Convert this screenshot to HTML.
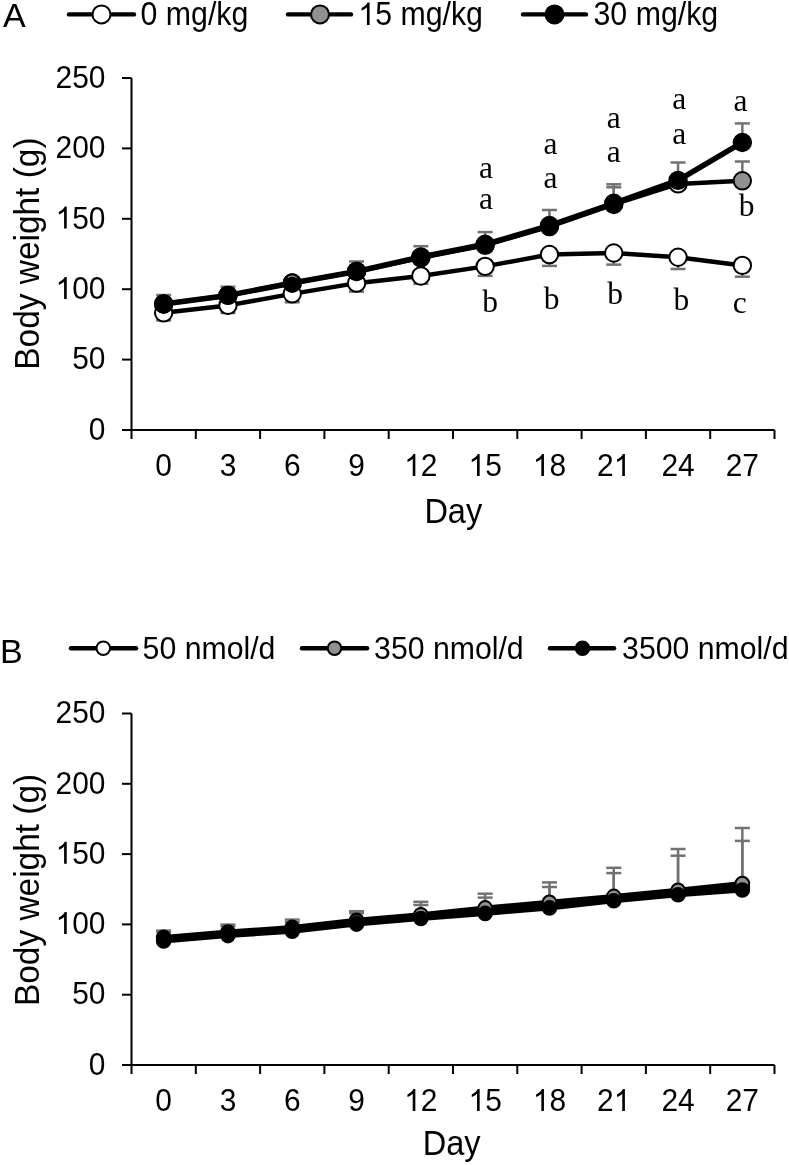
<!DOCTYPE html>
<html><head><meta charset="utf-8"><style>
html,body{margin:0;padding:0;background:#fff;}
svg{display:block;}
</style></head><body>
<svg width="789" height="1165" viewBox="0 0 789 1165" style="will-change:transform">
<rect width="789" height="1165" fill="#fff"/>
<text x="3.00" y="27.00" font-family="Liberation Sans" font-size="34" text-anchor="start" >A</text>
<line x1="69.00" y1="14.40" x2="134.00" y2="14.40" stroke="#000" stroke-width="4.4" stroke-linecap="round"/>
<circle cx="101.50" cy="14.40" r="9" fill="#fff" stroke="#000" stroke-width="2"/>
<text transform="translate(140.50,24.90) scale(0.93,1)" font-family="Liberation Sans" font-size="32.6" text-anchor="start" >0 mg/kg</text>
<line x1="288.00" y1="14.40" x2="351.00" y2="14.40" stroke="#000" stroke-width="4.4" stroke-linecap="round"/>
<circle cx="320.00" cy="14.40" r="9" fill="#909090" stroke="#000" stroke-width="2"/>
<path transform="translate(358.30,24.90) scale(0.01480,-0.01592)" d="M763 0L583 0L583 1102Q518 1043 412 983Q306 924 223 894L223 1061Q368 1127 477 1220Q586 1313 631 1409L763 1409Z"/>
<text transform="translate(375.16,24.90) scale(0.93,1)" font-family="Liberation Sans" font-size="32.6" xml:space="preserve">5 mg/kg</text>
<line x1="523.00" y1="14.40" x2="586.00" y2="14.40" stroke="#000" stroke-width="4.4" stroke-linecap="round"/>
<circle cx="554.50" cy="14.40" r="9" fill="#000" stroke="#000" stroke-width="2"/>
<text transform="translate(593.50,24.90) scale(0.93,1)" font-family="Liberation Sans" font-size="32.6" text-anchor="start" >30 mg/kg</text>
<line x1="131.50" y1="78.00" x2="131.50" y2="430.00" stroke="#000" stroke-width="2" stroke-linecap="butt"/>
<line x1="122.00" y1="430.00" x2="131.50" y2="430.00" stroke="#000" stroke-width="2" stroke-linecap="butt"/>
<text transform="translate(105.50,439.70) scale(0.935,1)" font-family="Liberation Sans" font-size="32" text-anchor="end" >0</text>
<line x1="122.00" y1="359.60" x2="131.50" y2="359.60" stroke="#000" stroke-width="2" stroke-linecap="butt"/>
<text transform="translate(105.50,369.30) scale(0.935,1)" font-family="Liberation Sans" font-size="32" text-anchor="end" >50</text>
<line x1="122.00" y1="289.20" x2="131.50" y2="289.20" stroke="#000" stroke-width="2" stroke-linecap="butt"/>
<path transform="translate(55.58,298.90) scale(0.01461,-0.01562)" d="M763 0L583 0L583 1102Q518 1043 412 983Q306 924 223 894L223 1061Q368 1127 477 1220Q586 1313 631 1409L763 1409Z"/>
<text transform="translate(72.22,298.90) scale(0.935,1)" font-family="Liberation Sans" font-size="32" xml:space="preserve">00</text>
<line x1="122.00" y1="218.80" x2="131.50" y2="218.80" stroke="#000" stroke-width="2" stroke-linecap="butt"/>
<path transform="translate(55.58,228.50) scale(0.01461,-0.01562)" d="M763 0L583 0L583 1102Q518 1043 412 983Q306 924 223 894L223 1061Q368 1127 477 1220Q586 1313 631 1409L763 1409Z"/>
<text transform="translate(72.22,228.50) scale(0.935,1)" font-family="Liberation Sans" font-size="32" xml:space="preserve">50</text>
<line x1="122.00" y1="148.40" x2="131.50" y2="148.40" stroke="#000" stroke-width="2" stroke-linecap="butt"/>
<text transform="translate(105.50,158.10) scale(0.935,1)" font-family="Liberation Sans" font-size="32" text-anchor="end" >200</text>
<line x1="122.00" y1="78.00" x2="131.50" y2="78.00" stroke="#000" stroke-width="2" stroke-linecap="butt"/>
<text transform="translate(105.50,87.70) scale(0.935,1)" font-family="Liberation Sans" font-size="32" text-anchor="end" >250</text>
<line x1="130.50" y1="430.00" x2="774.50" y2="430.00" stroke="#000" stroke-width="2" stroke-linecap="butt"/>
<line x1="131.50" y1="430.00" x2="131.50" y2="439.00" stroke="#000" stroke-width="2" stroke-linecap="butt"/>
<line x1="195.80" y1="430.00" x2="195.80" y2="439.00" stroke="#000" stroke-width="2" stroke-linecap="butt"/>
<line x1="260.10" y1="430.00" x2="260.10" y2="439.00" stroke="#000" stroke-width="2" stroke-linecap="butt"/>
<line x1="324.40" y1="430.00" x2="324.40" y2="439.00" stroke="#000" stroke-width="2" stroke-linecap="butt"/>
<line x1="388.70" y1="430.00" x2="388.70" y2="439.00" stroke="#000" stroke-width="2" stroke-linecap="butt"/>
<line x1="453.00" y1="430.00" x2="453.00" y2="439.00" stroke="#000" stroke-width="2" stroke-linecap="butt"/>
<line x1="517.30" y1="430.00" x2="517.30" y2="439.00" stroke="#000" stroke-width="2" stroke-linecap="butt"/>
<line x1="581.60" y1="430.00" x2="581.60" y2="439.00" stroke="#000" stroke-width="2" stroke-linecap="butt"/>
<line x1="645.90" y1="430.00" x2="645.90" y2="439.00" stroke="#000" stroke-width="2" stroke-linecap="butt"/>
<line x1="710.20" y1="430.00" x2="710.20" y2="439.00" stroke="#000" stroke-width="2" stroke-linecap="butt"/>
<line x1="774.50" y1="430.00" x2="774.50" y2="439.00" stroke="#000" stroke-width="2" stroke-linecap="butt"/>
<text transform="translate(163.65,476.00) scale(0.935,1)" font-family="Liberation Sans" font-size="32" text-anchor="middle" >0</text>
<text transform="translate(227.95,476.00) scale(0.935,1)" font-family="Liberation Sans" font-size="32" text-anchor="middle" >3</text>
<text transform="translate(292.25,476.00) scale(0.935,1)" font-family="Liberation Sans" font-size="32" text-anchor="middle" >6</text>
<text transform="translate(356.55,476.00) scale(0.935,1)" font-family="Liberation Sans" font-size="32" text-anchor="middle" >9</text>
<path transform="translate(404.21,476.00) scale(0.01461,-0.01562)" d="M763 0L583 0L583 1102Q518 1043 412 983Q306 924 223 894L223 1061Q368 1127 477 1220Q586 1313 631 1409L763 1409Z"/>
<text transform="translate(420.85,476.00) scale(0.935,1)" font-family="Liberation Sans" font-size="32" xml:space="preserve">2</text>
<path transform="translate(468.51,476.00) scale(0.01461,-0.01562)" d="M763 0L583 0L583 1102Q518 1043 412 983Q306 924 223 894L223 1061Q368 1127 477 1220Q586 1313 631 1409L763 1409Z"/>
<text transform="translate(485.15,476.00) scale(0.935,1)" font-family="Liberation Sans" font-size="32" xml:space="preserve">5</text>
<path transform="translate(532.81,476.00) scale(0.01461,-0.01562)" d="M763 0L583 0L583 1102Q518 1043 412 983Q306 924 223 894L223 1061Q368 1127 477 1220Q586 1313 631 1409L763 1409Z"/>
<text transform="translate(549.45,476.00) scale(0.935,1)" font-family="Liberation Sans" font-size="32" xml:space="preserve">8</text>
<text transform="translate(597.11,476.00) scale(0.935,1)" font-family="Liberation Sans" font-size="32" xml:space="preserve">2</text>
<path transform="translate(613.75,476.00) scale(0.01461,-0.01562)" d="M763 0L583 0L583 1102Q518 1043 412 983Q306 924 223 894L223 1061Q368 1127 477 1220Q586 1313 631 1409L763 1409Z"/>
<text transform="translate(678.05,476.00) scale(0.935,1)" font-family="Liberation Sans" font-size="32" text-anchor="middle" >24</text>
<text transform="translate(742.35,476.00) scale(0.935,1)" font-family="Liberation Sans" font-size="32" text-anchor="middle" >27</text>
<text transform="translate(453.30,523.00) scale(0.93,1)" font-family="Liberation Sans" font-size="35" text-anchor="middle" >Day</text>
<text transform="translate(38.8,253.60) rotate(-90) scale(0.975,1)" font-family="Liberation Sans" font-size="34.3" text-anchor="middle">Body weight (g)</text>
<line x1="163.65" y1="312.85" x2="163.65" y2="320.50" stroke="#727272" stroke-width="2.5" stroke-linecap="butt"/>
<line x1="156.15" y1="320.50" x2="171.15" y2="320.50" stroke="#727272" stroke-width="2.5" stroke-linecap="butt"/>
<line x1="227.95" y1="305.39" x2="227.95" y2="313.00" stroke="#727272" stroke-width="2.5" stroke-linecap="butt"/>
<line x1="220.45" y1="313.00" x2="235.45" y2="313.00" stroke="#727272" stroke-width="2.5" stroke-linecap="butt"/>
<line x1="292.25" y1="293.85" x2="292.25" y2="302.30" stroke="#727272" stroke-width="2.5" stroke-linecap="butt"/>
<line x1="284.75" y1="302.30" x2="299.75" y2="302.30" stroke="#727272" stroke-width="2.5" stroke-linecap="butt"/>
<line x1="356.55" y1="283.15" x2="356.55" y2="291.70" stroke="#727272" stroke-width="2.5" stroke-linecap="butt"/>
<line x1="349.05" y1="291.70" x2="364.05" y2="291.70" stroke="#727272" stroke-width="2.5" stroke-linecap="butt"/>
<line x1="420.85" y1="275.96" x2="420.85" y2="283.80" stroke="#727272" stroke-width="2.5" stroke-linecap="butt"/>
<line x1="413.35" y1="283.80" x2="428.35" y2="283.80" stroke="#727272" stroke-width="2.5" stroke-linecap="butt"/>
<line x1="485.15" y1="266.39" x2="485.15" y2="275.90" stroke="#727272" stroke-width="2.5" stroke-linecap="butt"/>
<line x1="477.65" y1="275.90" x2="492.65" y2="275.90" stroke="#727272" stroke-width="2.5" stroke-linecap="butt"/>
<line x1="549.45" y1="254.56" x2="549.45" y2="265.90" stroke="#727272" stroke-width="2.5" stroke-linecap="butt"/>
<line x1="541.95" y1="265.90" x2="556.95" y2="265.90" stroke="#727272" stroke-width="2.5" stroke-linecap="butt"/>
<line x1="613.75" y1="253.01" x2="613.75" y2="264.60" stroke="#727272" stroke-width="2.5" stroke-linecap="butt"/>
<line x1="606.25" y1="264.60" x2="621.25" y2="264.60" stroke="#727272" stroke-width="2.5" stroke-linecap="butt"/>
<line x1="678.05" y1="257.24" x2="678.05" y2="269.00" stroke="#727272" stroke-width="2.5" stroke-linecap="butt"/>
<line x1="670.55" y1="269.00" x2="685.55" y2="269.00" stroke="#727272" stroke-width="2.5" stroke-linecap="butt"/>
<line x1="742.35" y1="265.40" x2="742.35" y2="276.70" stroke="#727272" stroke-width="2.5" stroke-linecap="butt"/>
<line x1="734.85" y1="276.70" x2="749.85" y2="276.70" stroke="#727272" stroke-width="2.5" stroke-linecap="butt"/>
<line x1="163.65" y1="303.98" x2="163.65" y2="295.00" stroke="#727272" stroke-width="2.5" stroke-linecap="butt"/>
<line x1="156.15" y1="295.00" x2="171.15" y2="295.00" stroke="#727272" stroke-width="2.5" stroke-linecap="butt"/>
<line x1="227.95" y1="295.40" x2="227.95" y2="286.70" stroke="#727272" stroke-width="2.5" stroke-linecap="butt"/>
<line x1="220.45" y1="286.70" x2="235.45" y2="286.70" stroke="#727272" stroke-width="2.5" stroke-linecap="butt"/>
<line x1="356.55" y1="271.46" x2="356.55" y2="261.50" stroke="#727272" stroke-width="2.5" stroke-linecap="butt"/>
<line x1="349.05" y1="261.50" x2="364.05" y2="261.50" stroke="#727272" stroke-width="2.5" stroke-linecap="butt"/>
<line x1="420.85" y1="256.96" x2="420.85" y2="246.20" stroke="#727272" stroke-width="2.5" stroke-linecap="butt"/>
<line x1="413.35" y1="246.20" x2="428.35" y2="246.20" stroke="#727272" stroke-width="2.5" stroke-linecap="butt"/>
<line x1="485.15" y1="244.28" x2="485.15" y2="232.10" stroke="#727272" stroke-width="2.5" stroke-linecap="butt"/>
<line x1="477.65" y1="232.10" x2="492.65" y2="232.10" stroke="#727272" stroke-width="2.5" stroke-linecap="butt"/>
<line x1="549.45" y1="225.56" x2="549.45" y2="210.00" stroke="#727272" stroke-width="2.5" stroke-linecap="butt"/>
<line x1="541.95" y1="210.00" x2="556.95" y2="210.00" stroke="#727272" stroke-width="2.5" stroke-linecap="butt"/>
<line x1="613.75" y1="204.44" x2="613.75" y2="187.30" stroke="#727272" stroke-width="2.5" stroke-linecap="butt"/>
<line x1="606.25" y1="187.30" x2="621.25" y2="187.30" stroke="#727272" stroke-width="2.5" stroke-linecap="butt"/>
<line x1="613.75" y1="203.31" x2="613.75" y2="184.30" stroke="#727272" stroke-width="2.5" stroke-linecap="butt"/>
<line x1="606.25" y1="184.30" x2="621.25" y2="184.30" stroke="#727272" stroke-width="2.5" stroke-linecap="butt"/>
<line x1="678.05" y1="180.36" x2="678.05" y2="162.50" stroke="#727272" stroke-width="2.5" stroke-linecap="butt"/>
<line x1="670.55" y1="162.50" x2="685.55" y2="162.50" stroke="#727272" stroke-width="2.5" stroke-linecap="butt"/>
<line x1="742.35" y1="180.78" x2="742.35" y2="161.50" stroke="#727272" stroke-width="2.5" stroke-linecap="butt"/>
<line x1="734.85" y1="161.50" x2="749.85" y2="161.50" stroke="#727272" stroke-width="2.5" stroke-linecap="butt"/>
<line x1="742.35" y1="142.49" x2="742.35" y2="123.40" stroke="#727272" stroke-width="2.5" stroke-linecap="butt"/>
<line x1="734.85" y1="123.40" x2="749.85" y2="123.40" stroke="#727272" stroke-width="2.5" stroke-linecap="butt"/>
<polyline points="163.65,312.85 227.95,305.39 292.25,293.85 356.55,283.15 420.85,275.96 485.15,266.39 549.45,254.56 613.75,253.01 678.05,257.24 742.35,265.40" fill="none" stroke="#000" stroke-width="4.5" stroke-linejoin="round"/>
<circle cx="163.65" cy="312.85" r="8.7" fill="#fff" stroke="#000" stroke-width="2"/>
<circle cx="227.95" cy="305.39" r="8.7" fill="#fff" stroke="#000" stroke-width="2"/>
<circle cx="292.25" cy="293.85" r="8.7" fill="#fff" stroke="#000" stroke-width="2"/>
<circle cx="356.55" cy="283.15" r="8.7" fill="#fff" stroke="#000" stroke-width="2"/>
<circle cx="420.85" cy="275.96" r="8.7" fill="#fff" stroke="#000" stroke-width="2"/>
<circle cx="485.15" cy="266.39" r="8.7" fill="#fff" stroke="#000" stroke-width="2"/>
<circle cx="549.45" cy="254.56" r="8.7" fill="#fff" stroke="#000" stroke-width="2"/>
<circle cx="613.75" cy="253.01" r="8.7" fill="#fff" stroke="#000" stroke-width="2"/>
<circle cx="678.05" cy="257.24" r="8.7" fill="#fff" stroke="#000" stroke-width="2"/>
<circle cx="742.35" cy="265.40" r="8.7" fill="#fff" stroke="#000" stroke-width="2"/>
<polyline points="163.65,303.98 227.95,295.40 292.25,283.00 356.55,271.46 420.85,257.80 485.15,245.27 549.45,226.54 613.75,204.44 678.05,183.88 742.35,180.78" fill="none" stroke="#000" stroke-width="4.5" stroke-linejoin="round"/>
<circle cx="163.65" cy="303.98" r="8.7" fill="#fff" stroke="#000" stroke-width="2"/>
<circle cx="227.95" cy="295.40" r="8.7" fill="#fff" stroke="#000" stroke-width="2"/>
<circle cx="292.25" cy="283.00" r="8.7" fill="#fff" stroke="#000" stroke-width="2"/>
<circle cx="356.55" cy="271.46" r="8.7" fill="#fff" stroke="#000" stroke-width="2"/>
<circle cx="420.85" cy="257.80" r="8.7" fill="#fff" stroke="#000" stroke-width="2"/>
<circle cx="485.15" cy="245.27" r="8.7" fill="#fff" stroke="#000" stroke-width="2"/>
<circle cx="549.45" cy="226.54" r="8.7" fill="#fff" stroke="#000" stroke-width="2"/>
<circle cx="613.75" cy="204.44" r="8.7" fill="#fff" stroke="#000" stroke-width="2"/>
<circle cx="678.05" cy="183.88" r="8.7" fill="#fff" stroke="#000" stroke-width="2"/>
<circle cx="742.35" cy="180.78" r="8.7" fill="#909090" stroke="#000" stroke-width="2"/>
<polyline points="163.65,303.98 227.95,295.40 292.25,283.00 356.55,271.46 420.85,256.96 485.15,244.28 549.45,225.56 613.75,203.31 678.05,180.36 742.35,142.49" fill="none" stroke="#000" stroke-width="5.5" stroke-linejoin="round"/>
<circle cx="163.65" cy="303.98" r="8.7" fill="#000" stroke="#000" stroke-width="2"/>
<circle cx="227.95" cy="295.40" r="8.7" fill="#000" stroke="#000" stroke-width="2"/>
<circle cx="292.25" cy="283.00" r="8.7" fill="#000" stroke="#000" stroke-width="2"/>
<circle cx="356.55" cy="271.46" r="8.7" fill="#000" stroke="#000" stroke-width="2"/>
<circle cx="420.85" cy="256.96" r="8.7" fill="#000" stroke="#000" stroke-width="2"/>
<circle cx="485.15" cy="244.28" r="8.7" fill="#000" stroke="#000" stroke-width="2"/>
<circle cx="549.45" cy="225.56" r="8.7" fill="#000" stroke="#000" stroke-width="2"/>
<circle cx="613.75" cy="203.31" r="8.7" fill="#000" stroke="#000" stroke-width="2"/>
<circle cx="678.05" cy="180.36" r="8.7" fill="#000" stroke="#000" stroke-width="2"/>
<circle cx="742.35" cy="142.49" r="8.7" fill="#000" stroke="#000" stroke-width="2"/>
<path d="M287.88 277.80 A6.8 6.8 0 0 1 296.62 277.80" fill="none" stroke="#c4c4c4" stroke-width="1"/>
<text x="486.00" y="178.00" font-family="Liberation Serif" font-size="31.5" text-anchor="middle" >a</text>
<text x="486.00" y="209.00" font-family="Liberation Serif" font-size="31.5" text-anchor="middle" >a</text>
<text x="490.00" y="312.00" font-family="Liberation Serif" font-size="31.5" text-anchor="middle" >b</text>
<text x="550.50" y="154.00" font-family="Liberation Serif" font-size="31.5" text-anchor="middle" >a</text>
<text x="550.50" y="188.00" font-family="Liberation Serif" font-size="31.5" text-anchor="middle" >a</text>
<text x="551.50" y="308.50" font-family="Liberation Serif" font-size="31.5" text-anchor="middle" >b</text>
<text x="613.70" y="128.00" font-family="Liberation Serif" font-size="31.5" text-anchor="middle" >a</text>
<text x="613.70" y="161.50" font-family="Liberation Serif" font-size="31.5" text-anchor="middle" >a</text>
<text x="615.00" y="303.50" font-family="Liberation Serif" font-size="31.5" text-anchor="middle" >b</text>
<text x="679.30" y="108.50" font-family="Liberation Serif" font-size="31.5" text-anchor="middle" >a</text>
<text x="679.30" y="144.00" font-family="Liberation Serif" font-size="31.5" text-anchor="middle" >a</text>
<text x="681.30" y="309.50" font-family="Liberation Serif" font-size="31.5" text-anchor="middle" >b</text>
<text x="740.40" y="111.00" font-family="Liberation Serif" font-size="31.5" text-anchor="middle" >a</text>
<text x="746.70" y="216.00" font-family="Liberation Serif" font-size="31.5" text-anchor="middle" >b</text>
<text x="739.80" y="313.00" font-family="Liberation Serif" font-size="31.5" text-anchor="middle" >c</text>
<text x="0.00" y="663.30" font-family="Liberation Sans" font-size="34" text-anchor="start" >B</text>
<line x1="71.00" y1="648.20" x2="136.00" y2="648.20" stroke="#000" stroke-width="4.5" stroke-linecap="round"/>
<circle cx="103.30" cy="648.20" r="6.8" fill="#fff" stroke="#000" stroke-width="2"/>
<text transform="translate(142.60,658.80) scale(0.945,1)" font-family="Liberation Sans" font-size="32" text-anchor="start" >50 nmol/d</text>
<line x1="302.00" y1="648.20" x2="367.00" y2="648.20" stroke="#000" stroke-width="4.5" stroke-linecap="round"/>
<circle cx="334.50" cy="648.20" r="6.8" fill="#909090" stroke="#000" stroke-width="2"/>
<text transform="translate(374.10,658.80) scale(0.945,1)" font-family="Liberation Sans" font-size="32" text-anchor="start" >350 nmol/d</text>
<line x1="550.00" y1="648.20" x2="614.00" y2="648.20" stroke="#000" stroke-width="4.5" stroke-linecap="round"/>
<circle cx="582.50" cy="648.20" r="6.8" fill="#000" stroke="#000" stroke-width="2"/>
<text transform="translate(622.10,658.80) scale(0.945,1)" font-family="Liberation Sans" font-size="32" text-anchor="start" >3500 nmol/d</text>
<line x1="131.50" y1="713.50" x2="131.50" y2="1065.00" stroke="#000" stroke-width="2" stroke-linecap="butt"/>
<line x1="122.00" y1="1065.00" x2="131.50" y2="1065.00" stroke="#000" stroke-width="2" stroke-linecap="butt"/>
<text transform="translate(105.50,1074.70) scale(0.935,1)" font-family="Liberation Sans" font-size="32" text-anchor="end" >0</text>
<line x1="122.00" y1="994.70" x2="131.50" y2="994.70" stroke="#000" stroke-width="2" stroke-linecap="butt"/>
<text transform="translate(105.50,1004.40) scale(0.935,1)" font-family="Liberation Sans" font-size="32" text-anchor="end" >50</text>
<line x1="122.00" y1="924.40" x2="131.50" y2="924.40" stroke="#000" stroke-width="2" stroke-linecap="butt"/>
<path transform="translate(55.58,934.10) scale(0.01461,-0.01562)" d="M763 0L583 0L583 1102Q518 1043 412 983Q306 924 223 894L223 1061Q368 1127 477 1220Q586 1313 631 1409L763 1409Z"/>
<text transform="translate(72.22,934.10) scale(0.935,1)" font-family="Liberation Sans" font-size="32" xml:space="preserve">00</text>
<line x1="122.00" y1="854.10" x2="131.50" y2="854.10" stroke="#000" stroke-width="2" stroke-linecap="butt"/>
<path transform="translate(55.58,863.80) scale(0.01461,-0.01562)" d="M763 0L583 0L583 1102Q518 1043 412 983Q306 924 223 894L223 1061Q368 1127 477 1220Q586 1313 631 1409L763 1409Z"/>
<text transform="translate(72.22,863.80) scale(0.935,1)" font-family="Liberation Sans" font-size="32" xml:space="preserve">50</text>
<line x1="122.00" y1="783.80" x2="131.50" y2="783.80" stroke="#000" stroke-width="2" stroke-linecap="butt"/>
<text transform="translate(105.50,793.50) scale(0.935,1)" font-family="Liberation Sans" font-size="32" text-anchor="end" >200</text>
<line x1="122.00" y1="713.50" x2="131.50" y2="713.50" stroke="#000" stroke-width="2" stroke-linecap="butt"/>
<text transform="translate(105.50,723.20) scale(0.935,1)" font-family="Liberation Sans" font-size="32" text-anchor="end" >250</text>
<line x1="130.50" y1="1065.00" x2="774.50" y2="1065.00" stroke="#000" stroke-width="2" stroke-linecap="butt"/>
<line x1="131.50" y1="1065.00" x2="131.50" y2="1074.00" stroke="#000" stroke-width="2" stroke-linecap="butt"/>
<line x1="195.80" y1="1065.00" x2="195.80" y2="1074.00" stroke="#000" stroke-width="2" stroke-linecap="butt"/>
<line x1="260.10" y1="1065.00" x2="260.10" y2="1074.00" stroke="#000" stroke-width="2" stroke-linecap="butt"/>
<line x1="324.40" y1="1065.00" x2="324.40" y2="1074.00" stroke="#000" stroke-width="2" stroke-linecap="butt"/>
<line x1="388.70" y1="1065.00" x2="388.70" y2="1074.00" stroke="#000" stroke-width="2" stroke-linecap="butt"/>
<line x1="453.00" y1="1065.00" x2="453.00" y2="1074.00" stroke="#000" stroke-width="2" stroke-linecap="butt"/>
<line x1="517.30" y1="1065.00" x2="517.30" y2="1074.00" stroke="#000" stroke-width="2" stroke-linecap="butt"/>
<line x1="581.60" y1="1065.00" x2="581.60" y2="1074.00" stroke="#000" stroke-width="2" stroke-linecap="butt"/>
<line x1="645.90" y1="1065.00" x2="645.90" y2="1074.00" stroke="#000" stroke-width="2" stroke-linecap="butt"/>
<line x1="710.20" y1="1065.00" x2="710.20" y2="1074.00" stroke="#000" stroke-width="2" stroke-linecap="butt"/>
<line x1="774.50" y1="1065.00" x2="774.50" y2="1074.00" stroke="#000" stroke-width="2" stroke-linecap="butt"/>
<text transform="translate(163.65,1111.00) scale(0.935,1)" font-family="Liberation Sans" font-size="32" text-anchor="middle" >0</text>
<text transform="translate(227.95,1111.00) scale(0.935,1)" font-family="Liberation Sans" font-size="32" text-anchor="middle" >3</text>
<text transform="translate(292.25,1111.00) scale(0.935,1)" font-family="Liberation Sans" font-size="32" text-anchor="middle" >6</text>
<text transform="translate(356.55,1111.00) scale(0.935,1)" font-family="Liberation Sans" font-size="32" text-anchor="middle" >9</text>
<path transform="translate(404.21,1111.00) scale(0.01461,-0.01562)" d="M763 0L583 0L583 1102Q518 1043 412 983Q306 924 223 894L223 1061Q368 1127 477 1220Q586 1313 631 1409L763 1409Z"/>
<text transform="translate(420.85,1111.00) scale(0.935,1)" font-family="Liberation Sans" font-size="32" xml:space="preserve">2</text>
<path transform="translate(468.51,1111.00) scale(0.01461,-0.01562)" d="M763 0L583 0L583 1102Q518 1043 412 983Q306 924 223 894L223 1061Q368 1127 477 1220Q586 1313 631 1409L763 1409Z"/>
<text transform="translate(485.15,1111.00) scale(0.935,1)" font-family="Liberation Sans" font-size="32" xml:space="preserve">5</text>
<path transform="translate(532.81,1111.00) scale(0.01461,-0.01562)" d="M763 0L583 0L583 1102Q518 1043 412 983Q306 924 223 894L223 1061Q368 1127 477 1220Q586 1313 631 1409L763 1409Z"/>
<text transform="translate(549.45,1111.00) scale(0.935,1)" font-family="Liberation Sans" font-size="32" xml:space="preserve">8</text>
<text transform="translate(597.11,1111.00) scale(0.935,1)" font-family="Liberation Sans" font-size="32" xml:space="preserve">2</text>
<path transform="translate(613.75,1111.00) scale(0.01461,-0.01562)" d="M763 0L583 0L583 1102Q518 1043 412 983Q306 924 223 894L223 1061Q368 1127 477 1220Q586 1313 631 1409L763 1409Z"/>
<text transform="translate(678.05,1111.00) scale(0.935,1)" font-family="Liberation Sans" font-size="32" text-anchor="middle" >24</text>
<text transform="translate(742.35,1111.00) scale(0.935,1)" font-family="Liberation Sans" font-size="32" text-anchor="middle" >27</text>
<text transform="translate(451.70,1154.70) scale(0.93,1)" font-family="Liberation Sans" font-size="35" text-anchor="middle" >Day</text>
<text transform="translate(38.8,889.90) rotate(-90) scale(0.975,1)" font-family="Liberation Sans" font-size="34.3" text-anchor="middle">Body weight (g)</text>
<line x1="163.65" y1="937.40" x2="163.65" y2="930.60" stroke="#727272" stroke-width="2.5" stroke-linecap="butt"/>
<line x1="156.15" y1="930.60" x2="171.15" y2="930.60" stroke="#727272" stroke-width="2.5" stroke-linecap="butt"/>
<line x1="163.65" y1="939.20" x2="163.65" y2="932.20" stroke="#727272" stroke-width="2.5" stroke-linecap="butt"/>
<line x1="156.15" y1="932.20" x2="171.15" y2="932.20" stroke="#727272" stroke-width="2.5" stroke-linecap="butt"/>
<line x1="227.95" y1="932.00" x2="227.95" y2="924.60" stroke="#727272" stroke-width="2.5" stroke-linecap="butt"/>
<line x1="220.45" y1="924.60" x2="235.45" y2="924.60" stroke="#727272" stroke-width="2.5" stroke-linecap="butt"/>
<line x1="227.95" y1="933.80" x2="227.95" y2="926.20" stroke="#727272" stroke-width="2.5" stroke-linecap="butt"/>
<line x1="220.45" y1="926.20" x2="235.45" y2="926.20" stroke="#727272" stroke-width="2.5" stroke-linecap="butt"/>
<line x1="292.25" y1="927.40" x2="292.25" y2="919.60" stroke="#727272" stroke-width="2.5" stroke-linecap="butt"/>
<line x1="284.75" y1="919.60" x2="299.75" y2="919.60" stroke="#727272" stroke-width="2.5" stroke-linecap="butt"/>
<line x1="292.25" y1="929.35" x2="292.25" y2="922.30" stroke="#727272" stroke-width="2.5" stroke-linecap="butt"/>
<line x1="284.75" y1="922.30" x2="299.75" y2="922.30" stroke="#727272" stroke-width="2.5" stroke-linecap="butt"/>
<line x1="356.55" y1="920.20" x2="356.55" y2="911.20" stroke="#727272" stroke-width="2.5" stroke-linecap="butt"/>
<line x1="349.05" y1="911.20" x2="364.05" y2="911.20" stroke="#727272" stroke-width="2.5" stroke-linecap="butt"/>
<line x1="356.55" y1="922.15" x2="356.55" y2="913.20" stroke="#727272" stroke-width="2.5" stroke-linecap="butt"/>
<line x1="349.05" y1="913.20" x2="364.05" y2="913.20" stroke="#727272" stroke-width="2.5" stroke-linecap="butt"/>
<line x1="420.85" y1="914.70" x2="420.85" y2="901.80" stroke="#727272" stroke-width="2.5" stroke-linecap="butt"/>
<line x1="413.35" y1="901.80" x2="428.35" y2="901.80" stroke="#727272" stroke-width="2.5" stroke-linecap="butt"/>
<line x1="420.85" y1="916.60" x2="420.85" y2="905.00" stroke="#727272" stroke-width="2.5" stroke-linecap="butt"/>
<line x1="413.35" y1="905.00" x2="428.35" y2="905.00" stroke="#727272" stroke-width="2.5" stroke-linecap="butt"/>
<line x1="485.15" y1="907.90" x2="485.15" y2="893.70" stroke="#727272" stroke-width="2.5" stroke-linecap="butt"/>
<line x1="477.65" y1="893.70" x2="492.65" y2="893.70" stroke="#727272" stroke-width="2.5" stroke-linecap="butt"/>
<line x1="485.15" y1="910.65" x2="485.15" y2="897.60" stroke="#727272" stroke-width="2.5" stroke-linecap="butt"/>
<line x1="477.65" y1="897.60" x2="492.65" y2="897.60" stroke="#727272" stroke-width="2.5" stroke-linecap="butt"/>
<line x1="549.45" y1="902.30" x2="549.45" y2="882.40" stroke="#727272" stroke-width="2.5" stroke-linecap="butt"/>
<line x1="541.95" y1="882.40" x2="556.95" y2="882.40" stroke="#727272" stroke-width="2.5" stroke-linecap="butt"/>
<line x1="549.45" y1="905.10" x2="549.45" y2="887.00" stroke="#727272" stroke-width="2.5" stroke-linecap="butt"/>
<line x1="541.95" y1="887.00" x2="556.95" y2="887.00" stroke="#727272" stroke-width="2.5" stroke-linecap="butt"/>
<line x1="613.75" y1="896.40" x2="613.75" y2="867.80" stroke="#727272" stroke-width="2.5" stroke-linecap="butt"/>
<line x1="606.25" y1="867.80" x2="621.25" y2="867.80" stroke="#727272" stroke-width="2.5" stroke-linecap="butt"/>
<line x1="613.75" y1="898.55" x2="613.75" y2="873.10" stroke="#727272" stroke-width="2.5" stroke-linecap="butt"/>
<line x1="606.25" y1="873.10" x2="621.25" y2="873.10" stroke="#727272" stroke-width="2.5" stroke-linecap="butt"/>
<line x1="678.05" y1="890.30" x2="678.05" y2="849.00" stroke="#727272" stroke-width="2.5" stroke-linecap="butt"/>
<line x1="670.55" y1="849.00" x2="685.55" y2="849.00" stroke="#727272" stroke-width="2.5" stroke-linecap="butt"/>
<line x1="678.05" y1="892.50" x2="678.05" y2="855.70" stroke="#727272" stroke-width="2.5" stroke-linecap="butt"/>
<line x1="670.55" y1="855.70" x2="685.55" y2="855.70" stroke="#727272" stroke-width="2.5" stroke-linecap="butt"/>
<line x1="742.35" y1="883.60" x2="742.35" y2="828.00" stroke="#727272" stroke-width="2.5" stroke-linecap="butt"/>
<line x1="734.85" y1="828.00" x2="749.85" y2="828.00" stroke="#727272" stroke-width="2.5" stroke-linecap="butt"/>
<line x1="742.35" y1="886.80" x2="742.35" y2="840.90" stroke="#727272" stroke-width="2.5" stroke-linecap="butt"/>
<line x1="734.85" y1="840.90" x2="749.85" y2="840.90" stroke="#727272" stroke-width="2.5" stroke-linecap="butt"/>
<polyline points="163.65,939.20 227.95,933.80 292.25,929.35 356.55,922.15 420.85,916.60 485.15,910.65 549.45,905.10 613.75,898.55 678.05,892.50 742.35,886.80" fill="none" stroke="#000" stroke-width="5" stroke-linejoin="round"/>
<polyline points="163.65,937.40 227.95,932.00 292.25,927.40 356.55,920.20 420.85,914.70 485.15,907.90 549.45,902.30 613.75,896.40 678.05,890.30 742.35,883.60" fill="none" stroke="#000" stroke-width="5" stroke-linejoin="round"/>
<polyline points="163.65,941.00 227.95,935.60 292.25,931.30 356.55,924.10 420.85,918.50 485.15,913.40 549.45,907.90 613.75,900.70 678.05,894.70 742.35,890.00" fill="none" stroke="#000" stroke-width="5" stroke-linejoin="round"/>
<circle cx="163.65" cy="939.20" r="6.8" fill="#fff" stroke="#000" stroke-width="2"/>
<circle cx="227.95" cy="933.80" r="6.8" fill="#fff" stroke="#000" stroke-width="2"/>
<circle cx="292.25" cy="929.35" r="6.8" fill="#fff" stroke="#000" stroke-width="2"/>
<circle cx="356.55" cy="922.15" r="6.8" fill="#fff" stroke="#000" stroke-width="2"/>
<circle cx="420.85" cy="916.60" r="6.8" fill="#fff" stroke="#000" stroke-width="2"/>
<circle cx="485.15" cy="910.65" r="6.8" fill="#fff" stroke="#000" stroke-width="2"/>
<circle cx="549.45" cy="905.10" r="6.8" fill="#fff" stroke="#000" stroke-width="2"/>
<circle cx="613.75" cy="898.55" r="6.8" fill="#fff" stroke="#000" stroke-width="2"/>
<circle cx="678.05" cy="892.50" r="6.8" fill="#fff" stroke="#000" stroke-width="2"/>
<circle cx="742.35" cy="886.80" r="6.8" fill="#fff" stroke="#000" stroke-width="2"/>
<circle cx="163.65" cy="937.40" r="6.8" fill="#000" stroke="#000" stroke-width="2"/>
<circle cx="227.95" cy="932.00" r="6.8" fill="#000" stroke="#000" stroke-width="2"/>
<circle cx="292.25" cy="927.40" r="6.8" fill="#000" stroke="#000" stroke-width="2"/>
<circle cx="356.55" cy="920.20" r="6.8" fill="#222" stroke="#000" stroke-width="2"/>
<circle cx="420.85" cy="914.70" r="6.8" fill="#909090" stroke="#000" stroke-width="2"/>
<circle cx="485.15" cy="907.90" r="6.8" fill="#909090" stroke="#000" stroke-width="2"/>
<circle cx="549.45" cy="902.30" r="6.8" fill="#909090" stroke="#000" stroke-width="2"/>
<circle cx="613.75" cy="896.40" r="6.8" fill="#909090" stroke="#000" stroke-width="2"/>
<circle cx="678.05" cy="890.30" r="6.8" fill="#909090" stroke="#000" stroke-width="2"/>
<circle cx="742.35" cy="883.60" r="6.8" fill="#909090" stroke="#000" stroke-width="2"/>
<circle cx="163.65" cy="941.00" r="6.8" fill="#000" stroke="#000" stroke-width="2"/>
<circle cx="227.95" cy="935.60" r="6.8" fill="#000" stroke="#000" stroke-width="2"/>
<circle cx="292.25" cy="931.30" r="6.8" fill="#000" stroke="#000" stroke-width="2"/>
<circle cx="356.55" cy="924.10" r="6.8" fill="#000" stroke="#000" stroke-width="2"/>
<circle cx="420.85" cy="918.50" r="6.8" fill="#000" stroke="#000" stroke-width="2"/>
<circle cx="485.15" cy="913.40" r="6.8" fill="#000" stroke="#000" stroke-width="2"/>
<circle cx="549.45" cy="907.90" r="6.8" fill="#000" stroke="#000" stroke-width="2"/>
<circle cx="613.75" cy="900.70" r="6.8" fill="#000" stroke="#000" stroke-width="2"/>
<circle cx="678.05" cy="894.70" r="6.8" fill="#000" stroke="#000" stroke-width="2"/>
<circle cx="742.35" cy="890.00" r="6.8" fill="#000" stroke="#000" stroke-width="2"/>
</svg>
</body></html>
